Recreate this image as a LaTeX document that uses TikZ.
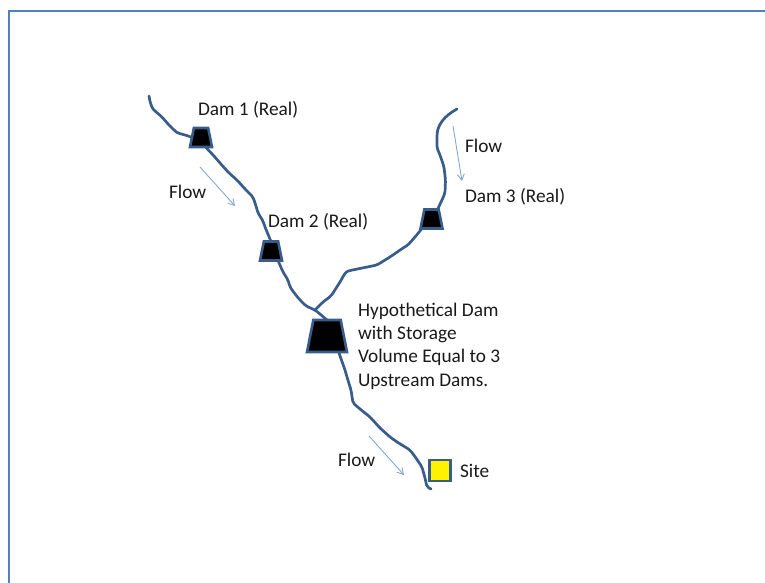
\documentclass[tikz,border=0pt]{standalone}
\usepackage{fontspec}
\setmainfont{Carlito}
\usetikzlibrary{shapes.geometric,arrows.meta}
\definecolor{river}{HTML}{385D8A}
\definecolor{accent}{HTML}{4F81BD}
\tikzset{
  every node/.style={inner sep=0pt,outer sep=0pt},
  dam/.style={trapezium,trapezium stretches=true,draw=river,fill=black,line width=2.6pt,inner sep=2pt},
  smalldam/.style={dam,minimum width=22pt,minimum height=19pt,trapezium angle=75},
  bigdam/.style={dam,minimum width=40pt,minimum height=32pt,trapezium angle=77},
  sitebox/.style={draw=river,fill=yellow,line width=2.2pt,minimum size=21pt},
  stream/.style={draw=river,line width=2.7pt,line cap=round,line join=round,rounded corners=2pt},
  flowarrow/.style={draw=accent!70!white,line width=0.9pt,-{Straight Barb[length=6pt,width=7pt]}},
  lbl/.style={anchor=base west,font=\fontsize{19.3pt}{22pt}\selectfont,align=left,text=black!90},
  frameline/.style={draw=accent,line width=2.2pt}
}
\begin{document}
\begin{tikzpicture}[x=1pt,y=-1pt]
\useasboundingbox (0,0) rectangle (765,583);
\coordinate (fa) at (9,583); \coordinate (fb) at (9,11); \coordinate (fc) at (765,11);
\draw[frameline] (fa) -- (fb) -- (fc);

\node[smalldam] (dam1) at (201,137.5) {};
\node[smalldam] (dam2) at (271,251) {};
\node[smalldam] (dam3) at (431.5,219) {};
\node[bigdam] (hyp) at (327,336) {};
\node[sitebox] (site) at (440,470.5) {};

\coordinate (s1) at (149,96);
\coordinate (s3) at (457,109);
\coordinate (conf) at (315,310);
\coordinate (mouth) at (431,489);

\draw[stream] (s1) .. controls (150,103) and (152,108) .. (155,111)
  -- (162,117) -- (168,124) -- (175,131) .. controls (179,134) and (184,134) .. (dam1.west);
\draw[stream] (dam1.south east) ++(-5,0) -- (214,156) -- (220,163) -- (229,173) -- (237,180)
  -- (245,189) -- (253,197) -- (256,206) -- (258,213) -- (263,221) -- (265,227) -- (dam2.north);
\draw[stream] (dam2.south) ++(7,0) -- (283,272) -- (288,280) -- (290,287) -- (295,294)
  -- (300,300) -- (306,306) -- (conf) -- (320,314) -- (hyp.north);
\draw[stream] (conf) -- (323,302) -- (331,296) -- (333,293) -- (340,282)
  .. controls (343,277) and (345,272) .. (350,270.5) -- (377,265) -- (390,257) -- (403,248)
  -- (408,245) -- (415,237) -- (dam3.south west);
\draw[stream] (dam3.north east) ++(-2,-1) -- (442,200) -- (445,193) -- (445.5,180) -- (444,167)
  -- (440,155) -- (437,148) -- (437,135) .. controls (438,125) and (444,116) .. (s3);
\draw[stream] (hyp.south) ++(12,1) -- (345,370) -- (347,377) -- (351,390) -- (353,403)
  -- (360,409) -- (370,417) -- (380,428) -- (390,437) -- (397,442) -- (402,445) -- (410,450)
  -- (416,458) -- (422,467) -- (425,478) -- (427,487) -- (mouth);

\coordinate (f1a) at (200,167); \coordinate (f1b) at (235,206);
\coordinate (f2a) at (453,126); \coordinate (f2b) at (462,181);
\coordinate (f3a) at (369,436); \coordinate (f3b) at (404,475);
\draw[flowarrow] (f1a) -- (f1b);
\draw[flowarrow] (f2a) -- (f2b);
\draw[flowarrow] (f3a) -- (f3b);

\node[lbl] (t1) at (198,116) {Dam 1 (Real)};
\node[lbl] (t2) at (268,227) {Dam 2 (Real)};
\node[lbl] (t3) at (465,202) {Dam 3 (Real)};
\node[lbl] (f1) at (169,198) {Flow};
\node[lbl] (f2) at (465,152) {Flow};
\node[lbl] (f3) at (338,466) {Flow};
\node[lbl] (s) at (460,477) {Site};
\node[lbl] (h1) at (358,316) {Hypothetical Dam};
\node[lbl] (h2) at (358,339) {with Storage};
\node[lbl] (h3) at (358,362) {Volume Equal to 3};
\node[lbl] (h4) at (358,386) {Upstream Dams.};
\end{tikzpicture}
\end{document}
